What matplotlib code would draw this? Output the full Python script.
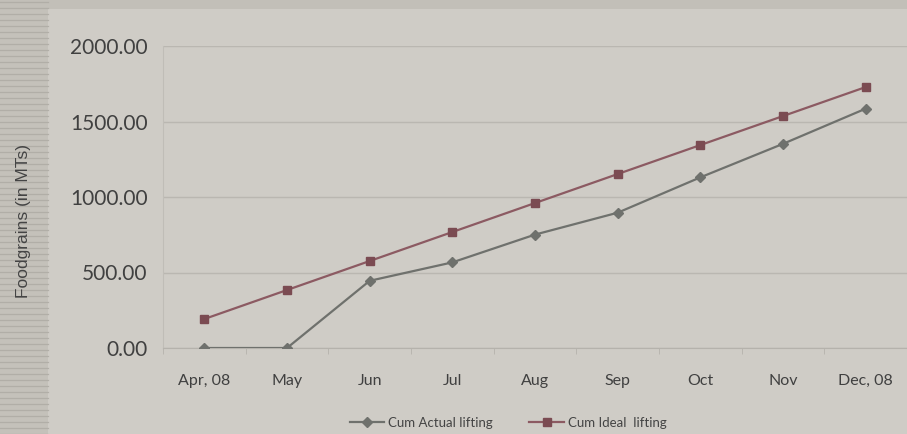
import matplotlib.pyplot as plt
import matplotlib.patches as mpatches
import numpy as np

months = ["Apr, 08", "May", "Jun", "Jul", "Aug", "Sep", "Oct", "Nov", "Dec, 08"]
cum_actual = [0, 0, 445, 567, 751, 896, 1130, 1352, 1585]
cum_ideal = [192, 384, 576, 768, 960, 1152, 1344, 1536, 1728]
y_ticks = [0, 500, 1000, 1500, 2000]

BG = "#cfccc6"
ACTUAL_C = "#6f716d"
IDEAL_C = "#8c5a62"
IDEAL_M = "#7b4b52"

fig = plt.figure(figsize=(9.07, 4.34), dpi=100, facecolor=BG)

# striped strip on the left edge and darker band on top (photo of a page)
fig.patches.append(mpatches.Rectangle((0, 0), 48 / 907, 1, transform=fig.transFigure,
                                      facecolor="#c4c1ba", edgecolor="none", zorder=-2))
for yy in np.arange(0, 1, 6 / 434):
    fig.add_artist(plt.Line2D([0, 48 / 907], [yy, yy], transform=fig.transFigure,
                              color="#b1aea7", lw=0.9, zorder=-1))
fig.patches.append(mpatches.Rectangle((0, 1 - 9 / 434), 1, 9 / 434, transform=fig.transFigure,
                                      facecolor="#c2bfb8", edgecolor="none", zorder=-2))

ax = fig.add_axes([163 / 907, 1 - 348 / 434, 1 - 163 / 907, (348 - 46) / 434])
ax.set_facecolor(BG)

x = np.arange(len(months))
ax.plot(x, cum_actual, color=ACTUAL_C, lw=1.6, marker="D", markersize=5,
        markerfacecolor=ACTUAL_C, markeredgecolor=ACTUAL_C, label="Cum Actual lifting", zorder=3)
ax.plot(x, cum_ideal, color=IDEAL_C, lw=1.6, marker="s", markersize=6,
        markerfacecolor=IDEAL_M, markeredgecolor=IDEAL_M, label="Cum Ideal  lifting", zorder=3)

ax.set_xlim(-0.5, len(months) - 0.5)
ax.set_ylim(0, 2000)
ax.set_yticks(y_ticks)
ax.set_yticklabels([f"{v:.2f}" for v in y_ticks], fontsize=15, color="#404040",
                   fontfamily="Lato")
ax.set_xticks(x)
ax.set_xticklabels(months, fontsize=11.5, color="#404040", fontfamily="Lato")
ax.set_xticks(np.arange(-0.5, len(months)), minor=True)
ax.tick_params(axis="y", length=0, pad=11)
ax.tick_params(axis="x", which="major", length=0, pad=19)
ax.tick_params(axis="x", which="minor", length=4, color="#b5b2ac")

ax.grid(axis="y", color="#bab7b1", lw=1.0)
for s in ["top", "right"]:
    ax.spines[s].set_visible(False)
ax.spines["left"].set_color("#c0bdb7")
ax.spines["bottom"].set_color("#b5b2ac")

ax.set_ylabel("Foodgrains (in MTs)", fontsize=12.5, color="#444444",
              fontfamily="Liberation Sans")
ax.yaxis.set_label_coords(-132 / 744, 0.42)

leg = fig.legend(loc="center", bbox_to_anchor=(508 / 907, 1 - 423 / 434), ncol=2,
                 frameon=False, handlelength=2.6, columnspacing=2.8,
                 handletextpad=0.3, prop={"family": "Lato", "size": 9.5})
for t in leg.get_texts():
    t.set_color("#444444")

fig.savefig("out.png", dpi=100, facecolor=BG)
